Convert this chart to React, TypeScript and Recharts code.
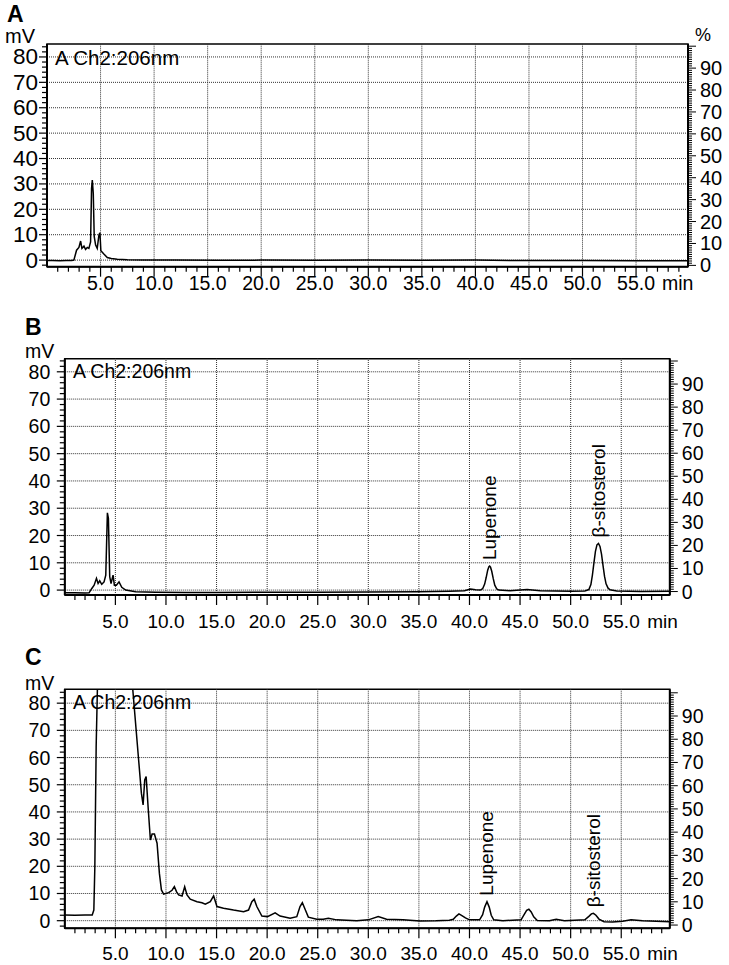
import {
  Line,
  LineChart,
  ReferenceArea,
  ReferenceDot,
  ReferenceLine,
  XAxis,
  YAxis,
} from "recharts"

const FONT = "'Liberation Sans', Arial, Helvetica, sans-serif"

// axis ticks / labels
const xMajor = [5, 10, 15, 20, 25, 30, 35, 40, 45, 50, 55]
const xTickLabels = ["5.0", "10.0", "15.0", "20.0", "25.0", "30.0", "35.0", "40.0", "45.0", "50.0", "55.0"]
const mvMajor = [0, 10, 20, 30, 40, 50, 60, 70, 80]
const pctMajor = [0, 10, 20, 30, 40, 50, 60, 70, 80, 90]
const xMinor = Array.from({ length: 59 }, (_, i) => i + 1)
const mvMinor = Array.from({ length: 44 }, (_, i) => -2 + i * 2)
const pctMinor = Array.from({ length: 101 }, (_, i) => i)

// chromatograms: [time (min), signal (mV)]
const traceA: [number, number][] = [
  [0, -0.2], [0.5, -0.2], [1.2, -0.3], [1.8, -0.2], [2.3, -0.2], [2.51, 0],
  [2.76, 3.9], [2.98, 5.0], [3.14, 7.5], [3.26, 4.6], [3.45, 5.5], [3.6, 4.2],
  [3.76, 5.0], [3.91, 4.6], [4.07, 7.2], [4.16, 28.2], [4.23, 31.5], [4.32, 26.3],
  [4.41, 9.2], [4.54, 5.9], [4.69, 4.6], [4.85, 9.9], [4.94, 10.8], [5.03, 3.7],
  [5.31, 2.4], [5.63, 1.0], [6.0, 0.6], [6.56, 0.3], [7.5, 0.1], [9, 0],
  [12, 0], [16, -0.1], [20, 0], [25, -0.1], [30, 0], [35, -0.1], [40, 0],
  [45, -0.2], [50, -0.2], [55, -0.3], [59.85, -0.3],
]

const traceB: [number, number][] = [
  [0, -1.0], [1, -1.0], [2, -1.1], [2.4, -1.0], [2.67, 0.6], [2.9, 1.8],
  [3.13, 4.3], [3.29, 2.4], [3.45, 3.4], [3.65, 2.1], [3.88, 3.0], [4.05, 5.5],
  [4.21, 28.3], [4.31, 26.3], [4.44, 4.9], [4.57, 2.4], [4.77, 5.5], [4.9, 1.8],
  [5.1, 1.8], [5.36, 3.0], [5.63, 1.0], [6.02, 0], [7.0, -0.6], [9, -0.8],
  [12, -0.9], [15, -0.9], [20, -0.8], [25, -0.8], [30, -0.7], [35, -0.6],
  [38, -0.4], [39.5, -0.2], [40.1, 0.4], [40.6, 0.1], [41.07, 0], [41.3, 0.5],
  [41.5, 2.2], [41.65, 4.6], [41.8, 7.3], [41.92, 8.6], [41.99, 8.8], [42.08, 8.4],
  [42.2, 6.9], [42.35, 4.2], [42.5, 1.8], [42.7, 0.4], [42.9, 0], [44, -0.2],
  [45.7, 0.2], [47, -0.2], [50, -0.4], [51.4, -0.3], [51.8, 0.2], [52.0, 2.0],
  [52.15, 5.5], [52.3, 10.0], [52.45, 14.2], [52.6, 16.6], [52.75, 17.1], [52.9, 16.0],
  [53.05, 13.2], [53.2, 9.0], [53.35, 5.0], [53.5, 2.3], [53.7, 0.7], [53.9, 0.1],
  [54.56, -0.3], [57, -0.5], [59.8, -0.4],
]

const traceC: [number, number][] = [
  [0, 2.1], [1, 2.0], [2, 2.1], [2.71, 2.1], [2.87, 3.9], [2.97, 19.9],
  [3.1, 64], [3.25, 90], [3.4, 140], [4.2, 170], [5.6, 160], [6.3, 103],
  [6.72, 85], [7.57, 46.9], [7.74, 42.6], [7.9, 51.8], [8.04, 53], [8.23, 42],
  [8.46, 29.7], [8.63, 31.9], [8.86, 31.9], [9.12, 28.5], [9.35, 17.4], [9.55, 11.3],
  [9.77, 9.8], [10.27, 10.3], [10.6, 11.2], [10.83, 12.5], [11.05, 10.6], [11.25, 9.5],
  [11.59, 9.1], [11.85, 12.5], [12.08, 9.5], [12.4, 7.9], [13.07, 7.0], [13.56, 6.6],
  [13.89, 6.1], [14.38, 7.0], [14.71, 9.1], [15.04, 5.2], [15.69, 4.6], [16.68, 3.9],
  [17.67, 3.3], [18.16, 3.9], [18.49, 7.0], [18.72, 7.9], [18.98, 5.2], [19.48, 1.7],
  [20.03, 1.5], [20.79, 2.9], [21.28, 1.7], [22.27, 0.9], [22.93, 1.5], [23.25, 5.2],
  [23.48, 6.6], [23.75, 4.2], [24.07, 1.3], [24.9, 0.5], [25.55, 0.5], [26.05, 0.9],
  [26.87, 0.3], [28.85, 0], [30, 0.3], [30.98, 1.5], [31.8, 0.5], [33.44, 0.3],
  [35.1, -0.1], [36.7, 0], [38.0, 0.2], [38.4, 0.5], [38.7, 1.7], [38.96, 2.5],
  [39.25, 1.9], [39.6, 1.0], [40.0, 0.3], [41.0, 0.3], [41.3, 2.2], [41.5, 5.0],
  [41.73, 7.0], [41.95, 5.0], [42.15, 2.0], [42.4, 0.3], [43.3, 0], [45.1, 0.3],
  [45.4, 2.2], [45.65, 3.8], [45.87, 4.2], [46.1, 3.2], [46.35, 1.4], [46.7, 0.1],
  [47.9, 0], [48.57, 0.5], [49.39, 0], [51.4, 0.3], [51.8, 1.6], [52.05, 2.5],
  [52.25, 2.7], [52.5, 2.0], [52.8, 0.6], [53.3, -0.4], [54.15, -0.5], [55.14, -0.2],
  [55.97, 0.3], [57.11, 0], [59.8, -0.4],
]

// identified peaks
const peakNames = ["Lupenone", "β-sitosterol"]
const peaksB: [number, number][] = [[41.99, 8.8], [52.75, 17.1]]
const peaksC: [number, number][] = [[41.73, 7.0], [52.25, 2.7]]

const CHART_W = 729
const YAXIS_W = 40
const PAXIS_W = 35
const XAXIS_H = 30

const panels = [
  {
    id: "A", top: 0, height: 300,
    plot: { left: 47, right: 688, top: 44, bottom: 266.7 },
    xMax: 59.85, mv: [-2.6, 85.1], pct: [-0.6, 101],
    trace: traceA, peaks: [] as [number, number][],
    yFont: 22.5, yGap: 9, pFont: 20, xFont: 19.5, xDy: 16.6,
  },
  {
    id: "B", top: 300, height: 330,
    plot: { left: 64.8, right: 669.8, top: 358.7, bottom: 595 },
    xMax: 59.8, mv: [-1.8, 84.8], pct: [-1.5, 101],
    trace: traceB, peaks: peaksB,
    yFont: 19.5, yGap: 14.5, pFont: 19.5, xFont: 19, xDy: 26,
  },
  {
    id: "C", top: 630, height: 335,
    plot: { left: 64.8, right: 669.8, top: 689.3, bottom: 928.3 },
    xMax: 59.8, mv: [-2.8, 85.1], pct: [-1.4, 101.5],
    trace: traceC, peaks: peaksC,
    yFont: 19.5, yGap: 14.5, pFont: 19.5, xFont: 19, xDy: 25,
  },
]

type P = (typeof panels)[number]

function Panel({ p }: { p: P }) {
  const data = p.trace.map(([t, v]) => ({ t, v }))
  const margin = {
    top: p.plot.top - p.top,
    left: p.plot.left - YAXIS_W,
    right: CHART_W - p.plot.right - PAXIS_W,
    bottom: p.top + p.height - p.plot.bottom - XAXIS_H,
  }
  const mvTicks = mvMinor.filter((v) => v >= p.mv[0] && v <= p.mv[1])
  const pctTicks = pctMinor.filter((v) => v >= p.pct[0] && v <= p.pct[1])

  const xTick = (props: any) => {
    const { x, y, payload } = props
    const v = payload.value
    const i = xMajor.indexOf(v)
    return (
      <g>
        <line x1={x} x2={x} y1={y} y2={y + (i >= 0 ? 10 : 5)} stroke="#000" strokeWidth={1.2} />
        {i >= 0 && (
          <text x={x} y={y + p.xDy} textAnchor="middle" dominantBaseline="central"
            fontSize={p.xFont} fontFamily={FONT} fill="#000">
            {xTickLabels[i]}
          </text>
        )}
        {v === 55 && (
          <text x={x + 26} y={y + p.xDy} textAnchor="start" dominantBaseline="central"
            fontSize={p.xFont} fontFamily={FONT} fill="#000">
            min
          </text>
        )}
      </g>
    )
  }

  const mvTick = (props: any) => {
    const { x, y, payload } = props
    const major = mvMajor.includes(payload.value)
    return (
      <g>
        <line x1={x} x2={x - (major ? 8 : 5)} y1={y} y2={y} stroke="#000" strokeWidth={1.2} />
        {major && (
          <text x={x - p.yGap} y={y} textAnchor="end" dominantBaseline="central"
            fontSize={p.yFont} fontFamily={FONT} fill="#000">
            {payload.value}
          </text>
        )}
      </g>
    )
  }

  const pctTick = (props: any) => {
    const { x, y, payload } = props
    const major = payload.value % 10 === 0
    return (
      <g>
        <line x1={x} x2={x + (major ? 8 : 4)} y1={y} y2={y} stroke="#000" strokeWidth={1} />
        {pctMajor.includes(payload.value) && (
          <text x={x + 12} y={y} textAnchor="start" dominantBaseline="central"
            fontSize={p.pFont} fontFamily={FONT} fill="#000">
            {payload.value}
          </text>
        )}
      </g>
    )
  }

  return (
    <div style={{ position: "absolute", left: 0, top: p.top }}>
      <LineChart width={CHART_W} height={p.height} data={data} margin={margin}>
        {xMajor.map((v) => (
          <ReferenceLine key={"vx" + v} x={v} yAxisId="mv" stroke="#333" strokeDasharray="1 1" />
        ))}
        {mvMajor.map((v) => (
          <ReferenceLine key={"hy" + v} y={v} yAxisId="mv" stroke="#333" strokeDasharray="1 1" />
        ))}
        <XAxis
          dataKey="t" type="number" domain={[0, p.xMax]} allowDataOverflow
          ticks={xMinor} interval={0} tickSize={0} tickMargin={0} height={XAXIS_H}
          axisLine={{ stroke: "#000", strokeWidth: 2 }} tickLine={false} tick={xTick}
        />
        <YAxis
          yAxisId="mv" orientation="left" type="number" domain={p.mv} allowDataOverflow
          ticks={mvTicks} interval={0} tickSize={0} tickMargin={0} width={YAXIS_W}
          axisLine={{ stroke: "#000", strokeWidth: 2 }} tickLine={false} tick={mvTick}
        />
        <YAxis
          yAxisId="pct" orientation="right" type="number" domain={p.pct} allowDataOverflow
          ticks={pctTicks} interval={0} tickSize={0} tickMargin={0} width={PAXIS_W}
          axisLine={{ stroke: "#000", strokeWidth: 2 }} tickLine={false} tick={pctTick}
        />
        <ReferenceArea
          x1={0} x2={p.xMax} y1={p.mv[0]} y2={p.mv[1]} yAxisId="mv"
          fill="none" fillOpacity={0} stroke="#000" strokeWidth={1.5} strokeOpacity={1}
        />
        <Line
          yAxisId="mv" dataKey="v" type="linear" stroke="#000" strokeWidth={1.5}
          dot={false} activeDot={false} isAnimationActive={false}
        />
        {p.peaks.map(([t, v], i) => (
          <ReferenceDot
            key={peakNames[i]} x={t} y={v} yAxisId="mv" r={0} fill="none" stroke="none"
            label={(lp: any) => {
              const vb = lp.viewBox || {}
              const cx = (vb.x ?? 0) + (vb.width ?? 0) / 2
              const cy = (vb.y ?? 0) - 6
              return (
                <text x={cx} y={cy} transform={`rotate(-90 ${cx} ${cy})`} textAnchor="start"
                  dominantBaseline="central" fontSize={19} fontFamily={FONT} fill="#000">
                  {peakNames[i]}
                </text>
              )
            }}
          />
        ))}
      </LineChart>
    </div>
  )
}

export default function App() {
  return (
    <div style={{ position: "absolute", left: 0, top: 0, width: 729, height: 965, background: "#fff" }}>
      {panels.map((p) => (
        <Panel key={p.id} p={p} />
      ))}
      <svg width={729} height={965} style={{ position: "absolute", left: 0, top: 0, pointerEvents: "none" }}
        fontFamily={FONT}>
        <text x={7} y={22} fontSize={23} fontWeight="bold">A</text>
        <text x={25} y={335} fontSize={23} fontWeight="bold">B</text>
        <text x={25} y={665} fontSize={23} fontWeight="bold">C</text>
        <text x={5} y={43} fontSize={20}>mV</text>
        <text x={25} y={358} fontSize={19.5}>mV</text>
        <text x={25} y={690} fontSize={19.5}>mV</text>
        <text x={695} y={41} fontSize={18}>%</text>
        <text x={55} y={65} fontSize={20.5}>A Ch2:206nm</text>
        <text x={73} y={378} fontSize={19.5}>A Ch2:206nm</text>
        <text x={73} y={709} fontSize={19.5}>A Ch2:206nm</text>
      </svg>
    </div>
  )
}
